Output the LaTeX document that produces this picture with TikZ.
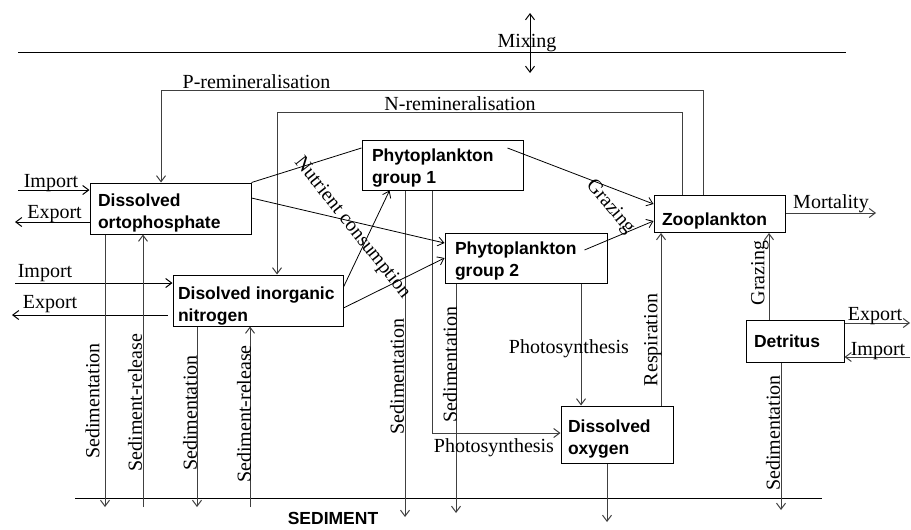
\documentclass[tikz,border=0pt]{standalone}
\usepackage{fontspec}
\setmainfont{Liberation Serif}
\setsansfont{Liberation Sans}
\usetikzlibrary{arrows.meta,calc}
\newcommand{\bxtext}[3]{\raisebox{-#1}[\height][\depth]{\parbox{#2}{\raggedright #3}}}
\begin{document}
\begin{tikzpicture}[x=1pt,y=-1pt,
  >={Straight Barb[length=6pt,width=9pt]},
  conn/.style={line width=1pt,draw=black!75},
  box/.style={draw=black,line width=1pt,inner xsep=8pt,inner ysep=0pt,
    font=\fontsize{17.5}{22}\selectfont\sffamily\bfseries},
  lbl/.style={font=\fontsize{20}{22}\selectfont,inner sep=0pt},
  vlbl/.style={lbl,rotate=90}
]
\useasboundingbox (0,0) rectangle (911,530);

% boxes
\node[box,minimum width=161pt,minimum height=51pt] (op) at (170.5,208.5) {\bxtext{4pt}{145pt}{Dissolved\\ortophosphate}};
\node[box,minimum width=170pt,minimum height=51pt,inner xsep=5pt] (din) at (258,300.5) {\bxtext{6pt}{160pt}{Disolved~inorganic\\nitrogen}};
\node[box,minimum width=161pt,minimum height=50pt,inner xsep=10pt] (p1) at (442.5,165) {\bxtext{3.5pt}{141pt}{Phytoplankton\\group 1}};
\node[box,minimum width=162pt,minimum height=50pt,inner xsep=10pt] (p2) at (526,258) {\bxtext{3pt}{142pt}{Phytoplankton\\group 2}};
\node[box,minimum width=131pt,minimum height=37pt] (zoo) at (719.5,214) {\bxtext{6.5pt}{115pt}{Zooplankton}};
\node[box,minimum width=98pt,minimum height=42pt] (det) at (795,341) {\bxtext{0.5pt}{82pt}{Detritus}};
\node[box,minimum width=112pt,minimum height=57pt,inner xsep=7pt] (ox) at (617,434.5) {\bxtext{5pt}{98pt}{Dissolved\\oxygen}};

% surface and sediment lines
\coordinate (wl) at (18,52); \coordinate (wr) at (846,52);
\draw[conn,draw=black] (wl) -- (wr);
\coordinate (sl) at (75,498); \coordinate (sr) at (822,498);
\draw[conn,draw=black] (sl) -- (sr);
\node[font=\fontsize{17.5}{20}\selectfont\sffamily\bfseries,anchor=base,inner sep=0pt] (sed) at (333,524) {SEDIMENT};

% mixing
\coordinate (mixT) at (530,13); \coordinate (mixB) at (530,73);
\draw[conn,draw=black,<->] (mixT) -- (mixB);
\node[lbl,anchor=base] (mixl) at (527,47) {Mixing};

% remineralisation
\coordinate (pr) at (703,90); \coordinate (pl) at (161,90);
\draw[conn,->] (zoo.north -| pr) -- (pr) -- (pl) -- (op.north -| pl);
\node[lbl,anchor=base] (prl) at (256.5,88) {P-remineralisation};
\coordinate (nr) at (682,112); \coordinate (nl) at (277,112);
\draw[conn,->] (zoo.north -| nr) -- (nr) -- (nl) -- (din.north -| nl);
\node[lbl,anchor=base] (nrl) at (460,110) {N-remineralisation};

% import / export
\coordinate (opin) at (18,190); \coordinate (opex) at (15,222);
\draw[conn,draw=black,->] (opin) -- (op.west |- opin);
\draw[conn,draw=black,->] (op.west |- opex) -- (opex);
\node[lbl,anchor=base] (opinl) at (51,187) {Import};
\node[lbl,anchor=base] (opexl) at (54.5,218) {Export};
\coordinate (dinin) at (15,283); \coordinate (dinex) at (12,315);
\draw[conn,draw=black,->] (dinin) -- (din.west |- dinin);
\draw[conn,draw=black,->] ([xshift=-5pt]din.west |- dinex) -- (dinex);
\node[lbl,anchor=base] (dininl) at (45,277) {Import};
\node[lbl,anchor=base] (dinexl) at (50,308) {Export};
\coordinate (mort) at (876,213);
\draw[conn,->] (zoo.east |- mort) -- (mort);
\node[lbl,anchor=base] (mortl) at (831,208) {Mortality};
\coordinate (detex) at (910,323); \coordinate (detin) at (910,357);
\draw[conn,->] (det.east |- detex) -- (detex);
\draw[conn,->] (detin) -- (det.east |- detin);
\node[lbl,anchor=base] (detexl) at (875,320) {Export};
\node[lbl,anchor=base] (detinl) at (878,355) {Import};

% sedimentation / release
\coordinate (s1) at (105,507); \coordinate (r1) at (143,507);
\coordinate (s2) at (197,507); \coordinate (r2) at (250,507);
\coordinate (s3) at (405,517); \coordinate (s4) at (456,513);
\coordinate (s5) at (781,510); \coordinate (s6) at (607,522);
\draw[conn,->] (op.south -| s1) -- (s1);
\draw[conn,->] (r1) -- (op.south -| r1);
\draw[conn,->] (din.south -| s2) -- (s2);
\draw[conn,->] (r2) -- (din.south -| r2);
\draw[conn,->] (p1.south -| s3) -- (s3);
\draw[conn,->] (p2.south -| s4) -- (s4);
\draw[conn,->] (det.south -| s5) -- (s5);
\draw[conn,->] (ox.south -| s6) -- (s6);
\node[vlbl] (s1l) at (92.5,401) {Sedimentation};
\node[vlbl] (r1l) at (135,402.5) {Sediment-release};
\node[vlbl] (s2l) at (190,413) {Sedimentation};
\node[vlbl] (r2l) at (244,414) {Sediment-release};
\node[vlbl] (s3l) at (397,376.5) {Sedimentation};
\node[vlbl] (s4l) at (450,364.5) {Sedimentation};
\node[vlbl] (s5l) at (773,433) {Sedimentation};

% photosynthesis, respiration, grazing
\coordinate (ph1) at (432,433);
\draw[conn,->] (p1.south -| ph1) -- (ph1) -- (ox.west |- ph1);
\node[lbl,anchor=base] (ph1l) at (494,452) {Photosynthesis};
\coordinate (ph2) at (581,300);
\draw[conn,->] (p2.south -| ph2) -- (ox.north -| ph2);
\node[lbl,anchor=base] (ph2l) at (569,353) {Photosynthesis};
\coordinate (resp) at (661,300);
\draw[conn,->] (ox.north -| resp) -- (zoo.south -| resp);
\node[vlbl] (respl) at (653,340) {Respiration};
\coordinate (dg) at (769,300);
\draw[conn,->] (det.north -| dg) -- (zoo.south -| dg);
\node[vlbl] (dgl) at (760,273) {Grazing};

% nutrient consumption and grazing diagonals
\draw[line width=0.8pt] (op.north east) -- ([yshift=17pt]p1.west);
\draw[line width=0.8pt,->] ([yshift=10.5pt]op.east) -- ([yshift=15pt]p2.west);
\draw[line width=0.8pt,->] ([yshift=13.5pt]din.east) -- ([xshift=28pt]p1.south west);
\draw[line width=0.8pt,->] ([yshift=-7.5pt]din.east) -- (p2.west);
\node[lbl,rotate=-51.5] (ncl) at (352,228) {Nutrient consumption};
\draw[line width=0.8pt,->] ([xshift=-16pt,yshift=17pt]p1.east) -- ([yshift=10pt]zoo.west);
\draw[line width=0.8pt,->] ([xshift=-23pt,yshift=8pt]p2.east) -- ([yshift=-7pt]zoo.west);
\node[lbl,rotate=-50] (grl) at (610,207) {Grazing};
\end{tikzpicture}
\end{document}
